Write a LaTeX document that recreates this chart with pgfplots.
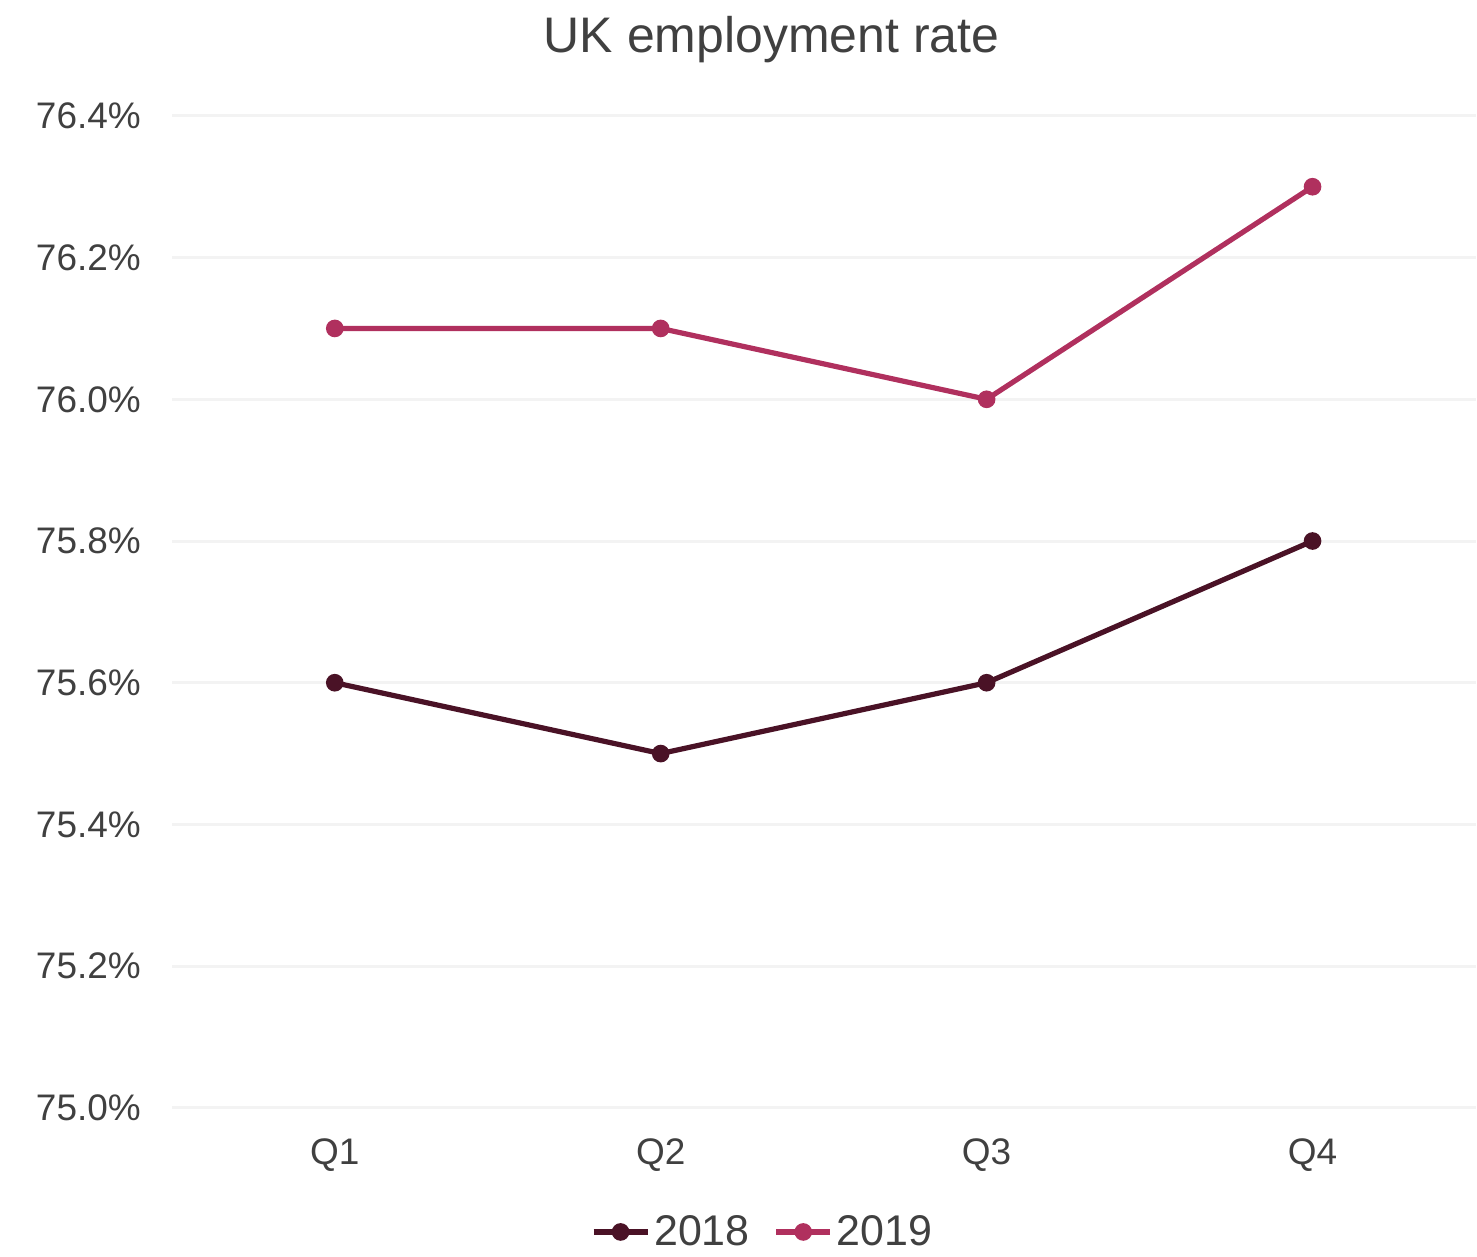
\documentclass[border=0pt]{standalone}
\usepackage{fontspec}
\setmainfont{Liberation Sans}
\usepackage{pgfplots}
\pgfplotsset{compat=1.18}
\definecolor{c18}{HTML}{4A1226}
\definecolor{c19}{HTML}{B0305E}
\definecolor{txt}{HTML}{404040}
\definecolor{grd}{HTML}{F3F3F3}
\begin{document}
\begin{tikzpicture}
\begin{axis}[
  scale only axis,
  width=652.5pt, height=496.5pt,
  xmin=-0.5, xmax=3.5, ymin=75, ymax=76.4,
  axis line style={draw=none},
  xtick={0,1,2,3}, xticklabels={Q1,Q2,Q3,Q4},
  ytick={75,75.2,75.4,75.6,75.8,76,76.2,76.4},
  yticklabels={75.0\%,75.2\%,75.4\%,75.6\%,75.8\%,76.0\%,76.2\%,76.4\%},
  major tick length=0pt,
  ymajorgrids, grid style={grd, line width=1.5pt},
  ticklabel style={font=\fontsize{18.5}{21}\selectfont, text=txt},
  yticklabel style={xshift=-12pt},
  xticklabel style={yshift=-12pt},
  clip=false,
  legend columns=2,
  legend style={draw=none, fill=none, at={(rel axis cs:0.454,-0.1)}, anchor=north,
    font=\fontsize{21.5}{24}\selectfont, text=txt,
    /tikz/every even column/.append style={column sep=10pt}},
  legend image code/.code={
    \draw[#1, mark=none] (0pt,0pt) -- (27pt,0pt);
    \draw[#1, only marks] plot coordinates {(13.5pt,0pt)};
  },
]
\path (rel axis cs:-0.1318,1.1168) rectangle (rel axis cs:1,-0.139);
\addplot[c18, line width=2.6pt, mark=*, mark size=3.1pt] coordinates {(0,75.6) (1,75.5) (2,75.6) (3,75.8)};
\addlegendentry{2018}
\addplot[c19, line width=2.6pt, mark=*, mark size=3.1pt] coordinates {(0,76.1) (1,76.1) (2,76.0) (3,76.3)};
\addlegendentry{2019}
\node[anchor=base, font=\fontsize{25}{28}\selectfont, text=txt] at (rel axis cs:0.46,1.0634) {UK employment rate};
\end{axis}
\end{tikzpicture}
\end{document}
